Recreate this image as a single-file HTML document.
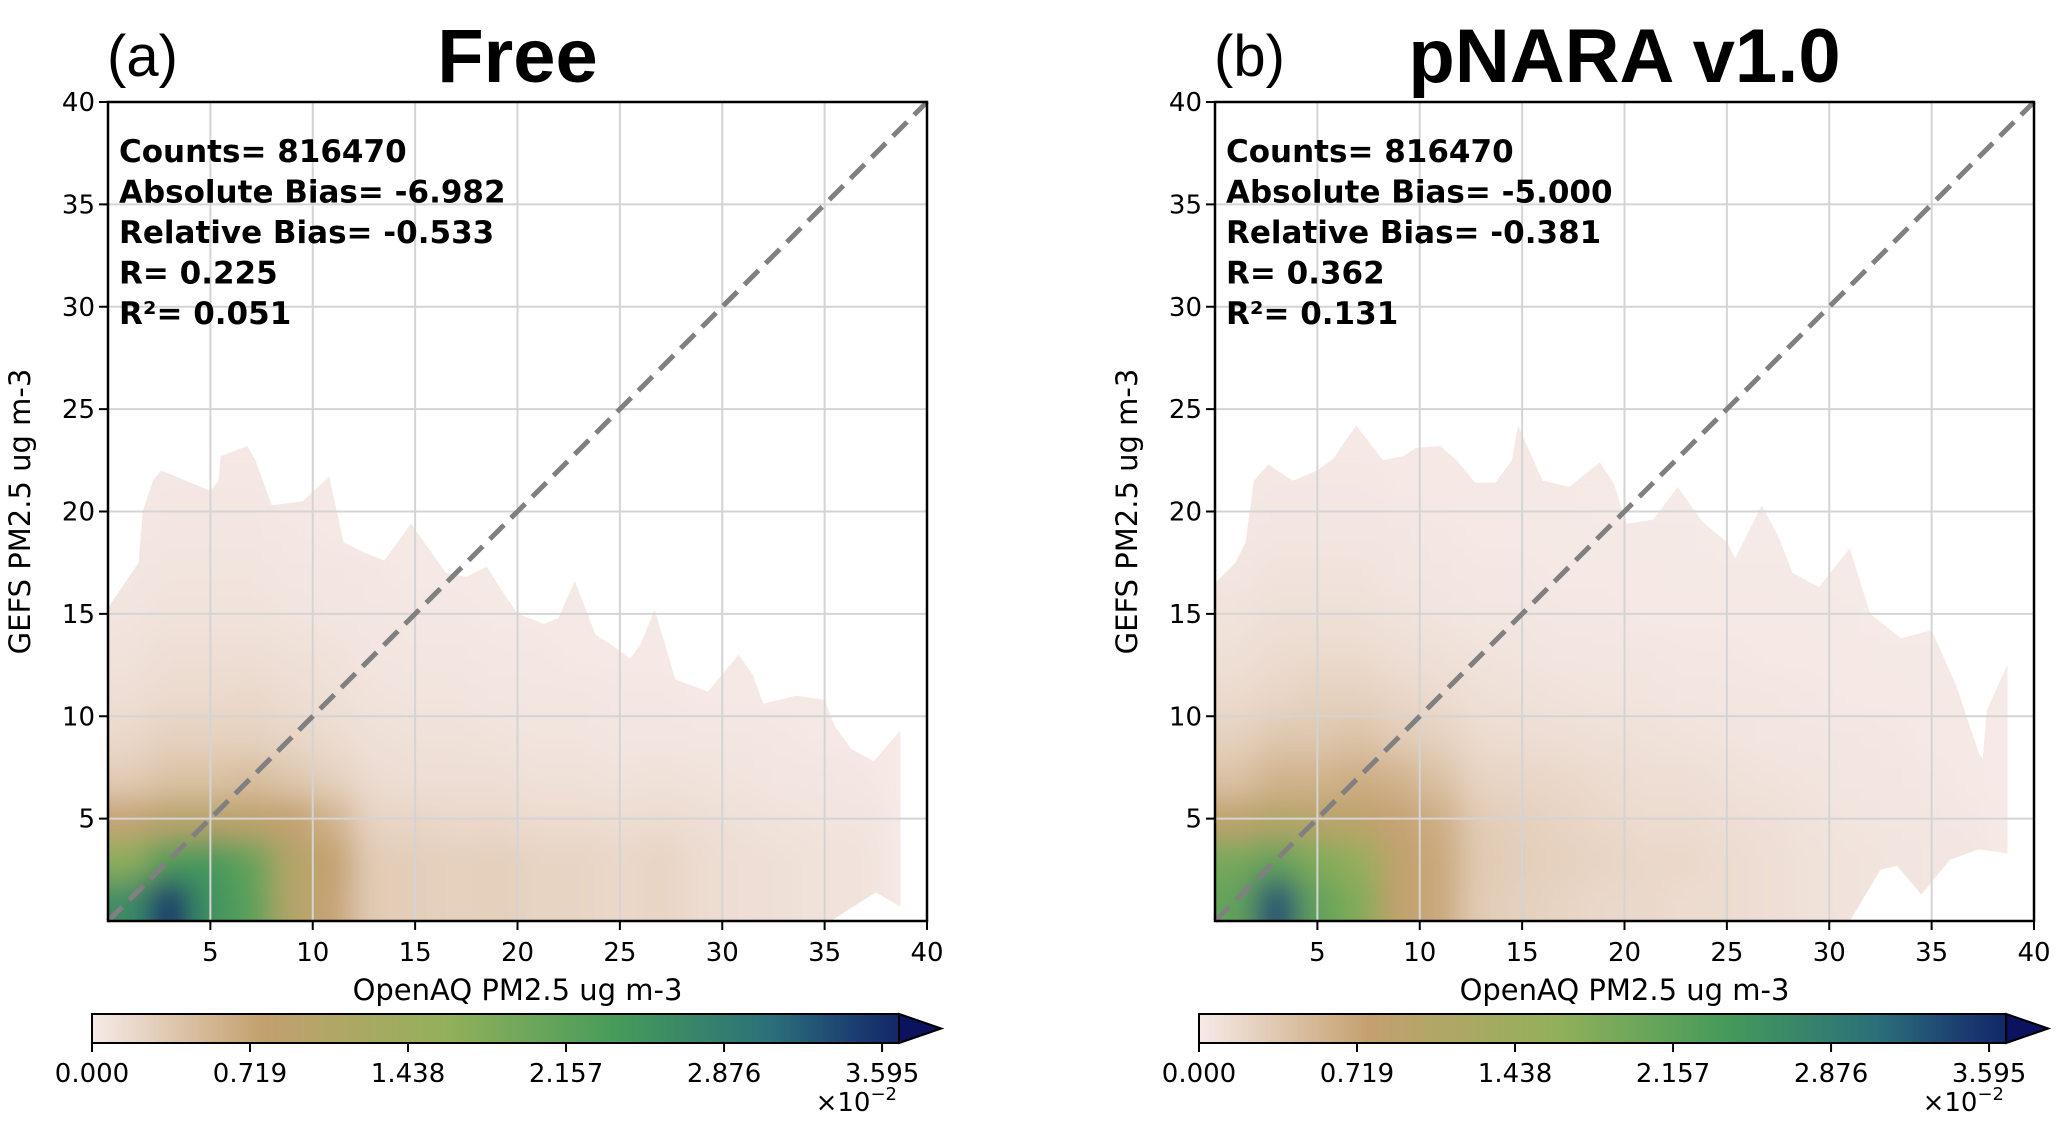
<!DOCTYPE html>
<html><head><meta charset="utf-8"><style>
html,body{margin:0;padding:0;background:#fff;}
svg{display:block;}
text{font-family:"DejaVu Sans","Liberation Sans",sans-serif;}
</style></head><body>
<svg id="fig" width="2067" height="1133" viewBox="0 0 2067 1133" xmlns="http://www.w3.org/2000/svg">
<defs>
<filter id="blurF" x="-10%" y="-10%" width="120%" height="120%"><feGaussianBlur stdDeviation="15"/></filter>
<linearGradient id="cbGrad" x1="0" x2="1" y1="0" y2="0">
<stop offset="0" stop-color="#f6eae8"/><stop offset="0.2" stop-color="#c4a06e"/><stop offset="0.42" stop-color="#92b05a"/><stop offset="0.62" stop-color="#459b5a"/><stop offset="0.8" stop-color="#2b6f7a"/><stop offset="0.9" stop-color="#1b3d70"/><stop offset="1" stop-color="#0b1260"/>
</linearGradient>
</defs>
</svg>
<script>
// ---- data ----
const xTicks = [5,10,15,20,25,30,35,40];
const yTicks = [5,10,15,20,25,30,35,40];
const cbTicks = [0.000,0.719,1.438,2.157,2.876,3.595];
const cbMax = 3.672;
const gridXCenters = [1,3,5,7,9,11,13,15,17,19,21,23,25,27,29,31,33,35,37,39];
const gridYCenters = [1,3,5,7,9,11,13,15,17,19,21];
const densA = [
[2.5,3.4,2.4,2.1,1.0,0.7,0.3,0.28,0.25,0.27,0.22,0.22,0.18,0.22,0.15,0.12,0.1,0.08,0.07,0],
[1.6,2.2,2.3,2.0,1.0,0.75,0.3,0.28,0.25,0.27,0.22,0.22,0.18,0.22,0.15,0.12,0.1,0.08,0.07,0],
[0.7,0.9,0.9,0.8,0.75,0.55,0.22,0.2,0.18,0.18,0.15,0.15,0.13,0.15,0.12,0.09,0.07,0.06,0.06,0],
[0.3,0.4,0.4,0.45,0.35,0.25,0.14,0.12,0.12,0.12,0.09,0.09,0.07,0.09,0.07,0.06,0.05,0.04,0.03,0],
[0.18,0.25,0.25,0.25,0.2,0.15,0.1,0.09,0.09,0.07,0.06,0.06,0.05,0.05,0.04,0.04,0.03,0.02,0.02,0],
[0.12,0.16,0.16,0.18,0.14,0.1,0.07,0.06,0.06,0.05,0.04,0.04,0.03,0.03,0.02,0.02,0.02,0.01,0,0],
[0.08,0.12,0.12,0.12,0.1,0.08,0.05,0.04,0.04,0.03,0.03,0.02,0.02,0.02,0.01,0.01,0.01,0,0,0],
[0.06,0.08,0.08,0.08,0.06,0.05,0.04,0.03,0.03,0.02,0.02,0.02,0.01,0.01,0.01,0.01,0,0,0,0],
[0.04,0.06,0.06,0.06,0.04,0.04,0.03,0.02,0.02,0.01,0.01,0.01,0.01,0.01,0,0,0,0,0,0],
[0.03,0.04,0.04,0.04,0.03,0.02,0.02,0.01,0.01,0.01,0.01,0,0,0,0,0,0,0,0,0],
[0.02,0.03,0.03,0.03,0.02,0.02,0.01,0.01,0.01,0,0,0,0,0,0,0,0,0,0,0]];
const densB = [
[2.0,3.2,2.0,1.7,0.8,0.65,0.3,0.26,0.22,0.18,0.18,0.15,0.15,0.12,0.09,0.07,0.06,0.05,0.05,0],
[1.8,2.0,1.7,1.5,0.8,0.65,0.32,0.28,0.25,0.22,0.18,0.18,0.15,0.12,0.09,0.07,0.06,0.05,0.05,0],
[0.8,1.0,0.9,0.85,0.7,0.6,0.3,0.26,0.22,0.18,0.15,0.15,0.12,0.11,0.07,0.06,0.05,0.04,0.03,0],
[0.4,0.55,0.55,0.6,0.55,0.4,0.22,0.2,0.18,0.15,0.12,0.12,0.09,0.07,0.06,0.05,0.04,0.03,0.02,0],
[0.25,0.35,0.35,0.4,0.3,0.25,0.15,0.13,0.12,0.1,0.09,0.07,0.06,0.05,0.04,0.04,0.03,0.02,0.02,0],
[0.16,0.2,0.25,0.25,0.2,0.15,0.1,0.09,0.07,0.06,0.06,0.05,0.04,0.04,0.03,0.02,0.02,0.02,0.01,0],
[0.1,0.15,0.16,0.16,0.12,0.1,0.07,0.06,0.05,0.04,0.04,0.03,0.03,0.02,0.02,0.02,0.01,0.01,0,0],
[0.07,0.1,0.1,0.1,0.08,0.06,0.04,0.04,0.03,0.03,0.02,0.02,0.02,0.02,0.01,0.01,0,0,0,0],
[0.05,0.07,0.07,0.07,0.05,0.04,0.03,0.03,0.02,0.02,0.02,0.01,0.01,0.01,0.01,0,0,0,0,0],
[0.03,0.05,0.05,0.05,0.04,0.03,0.02,0.02,0.01,0.01,0.01,0.01,0,0,0,0,0,0,0,0],
[0.02,0.03,0.03,0.03,0.02,0.02,0.01,0.01,0.01,0,0,0,0,0,0,0,0,0,0,0]];
const envAx = [0,0,1.5,1.7,2.2,2.6,5,5.4,5.5,6.8,7.2,8,9.5,10.8,11.5,12.5,13.5,14.8,16.5,17.5,18.5,19,20,21.3,22,22.8,23.8,25,25.5,26,26.7,27.7,29.3,30.8,31.5,32,33.6,35,35.5,36.3,37.4,38.7,38.7,37.5,35.3];
const envAy = [0,15.3,17.5,20,21.5,22,21,21.5,22.7,23.2,22.5,20.3,20.5,21.7,18.5,18,17.6,19.4,17,16.8,17.3,16.5,15,14.5,14.8,16.6,14,13.2,12.8,13.5,15.2,11.8,11.2,13,12,10.6,11,10.8,9.5,8.4,7.8,9.3,0.7,1.4,0];
const envBx = [0,0,1,1.5,1.9,2.6,3.8,5,5.8,6.4,6.9,8.2,9.2,9.8,11,11.8,12.7,13.7,14.5,14.8,16,17.3,18.8,19.5,20.1,21.4,22.6,23.8,25,25.4,26.7,27.5,28.2,29.5,31,32,33.5,35,36.2,37.3,37.5,37.7,38.7,38.7,37.3,35.9,34.5,33.3,32.5,31];
const envBy = [0,16.5,17.5,18.5,21.5,22.3,21.5,22,22.6,23.5,24.2,22.5,22.7,23.1,23.2,22.5,21.4,21.4,22.5,24.2,21.5,21.2,22.4,21.3,19.4,19.6,21.2,19.5,18.5,17.7,20.3,18.8,17,16.3,18.2,15,13.8,14.2,11.5,8.2,7.9,10.3,12.5,3.3,3.5,3.0,1.3,2.7,2.5,0];
const statsA = ["Counts= 816470","Absolute Bias= -6.982","Relative Bias= -0.533","R= 0.225","R²= 0.051"];
const statsB = ["Counts= 816470","Absolute Bias= -5.000","Relative Bias= -0.381","R= 0.362","R²= 0.131"];

const NS="http://www.w3.org/2000/svg";
const svg=document.getElementById('fig');
function mk(tag,attrs,parent){const e=document.createElementNS(NS,tag);for(const k in attrs)e.setAttribute(k,attrs[k]);(parent||svg).appendChild(e);return e;}
const stops=[[0,[246,234,232]],[0.2,[196,160,110]],[0.42,[146,176,90]],[0.62,[69,155,90]],[0.8,[43,111,122]],[0.9,[27,61,112]],[1,[11,18,96]]];
function cmap(v){let t=Math.max(0,Math.min(1,v/cbMax));for(let i=1;i<stops.length;i++){if(t<=stops[i][0]){const a=stops[i-1],b=stops[i];const f=(t-a[0])/(b[0]-a[0]);const c=a[1].map((x,j)=>Math.round(x+(b[1][j]-x)*f));return 'rgb('+c.join(',')+')';}}return 'rgb(11,18,96)';}

function panel(px,py,letter,title,dens,ex,ey,stats,id){
  const S=819, X=v=>px+v/40*S, Y=v=>py+S-v/40*S;
  const g=mk('g',{});
  
  
  const cp=mk('clipPath',{id:'clip'+id},g);
  const pts=ex.map((x,i)=>X(x).toFixed(1)+','+Y(ey[i]).toFixed(1)).join(' ');
  mk('polygon',{points:pts},cp);
  const dg=mk('g',{'clip-path':'url(#clip'+id+')'},g);
  
  
  mk('rect',{x:px,y:py,width:S,height:S,fill:cmap(0.02)},dg);
  const bg=mk('g',{filter:'url(#blurF)'},dg);
  const cw=2/40*S;
  dens.forEach((row,j)=>row.forEach((v,i)=>{
    let x0=X(gridXCenters[i]-1), y0=Y(gridYCenters[j]+1), w=cw, h=cw;
    if(i===0){x0-=40;w+=40;} if(j===0){h+=40;}
    const r=mk('rect',{x:x0,y:y0,width:w+0.5,height:h+0.5,fill:cmap(v)},bg);
    
    
  }));
  xTicks.forEach(t=>{if(t<40){const l=mk('line',{x1:X(t),x2:X(t),y1:py,y2:py+S,stroke:'#d4d4d4','stroke-width':2},g);}});
  yTicks.forEach(t=>{if(t<40){const l=mk('line',{x1:px,x2:px+S,y1:Y(t),y2:Y(t),stroke:'#d4d4d4','stroke-width':2},g);}});
  const d=mk('line',{x1:X(0),y1:Y(0),x2:X(40),y2:Y(40),stroke:'#808080','stroke-width':5,'stroke-dasharray':'20,10'},g);
  
  
  const fr=mk('rect',{x:px,y:py,width:S,height:S,fill:'none',stroke:'#000','stroke-width':2.5},g);
  
  
  xTicks.forEach(t=>{mk('line',{x1:X(t),x2:X(t),y1:py+S,y2:py+S+9,stroke:'#000','stroke-width':2},g);
    const tx=mk('text',{x:X(t),y:py+S+40,'font-size':26,'text-anchor':'middle'},g);tx.textContent=t;
    });
  yTicks.forEach(t=>{mk('line',{x1:px-9,x2:px,y1:Y(t),y2:Y(t),stroke:'#000','stroke-width':2},g);
    const tx=mk('text',{x:px-13,y:Y(t)+9,'font-size':26,'text-anchor':'end'},g);tx.textContent=t;
    });
  const xl=mk('text',{x:px+S/2,y:py+S+79,'font-size':29,'text-anchor':'middle'},g);xl.textContent='OpenAQ PM2.5 ug m-3';
  
  const yx=px-78, yy=py+S/2;
  const yl=mk('text',{x:yx,y:yy,'font-size':29,'text-anchor':'middle',transform:'rotate(-90 '+yx+' '+yy+')'},g);yl.textContent='GEFS PM2.5 ug m-3';
  
  stats.forEach((s,i)=>{const t=mk('text',{x:px+11,y:py+60+i*40.5,'font-size':31,'font-weight':'bold'},g);t.textContent=s;
    });
  const lt=mk('text',{x:px-1,y:py-26,'font-size':58,style:'font-family:"Liberation Sans",sans-serif'},g);lt.textContent=letter;
  
  const tt=mk('text',{x:px+S/2,y:py-20,'font-size':76,'font-weight':'bold','text-anchor':'middle',style:'font-family:"Liberation Sans",sans-serif'},g);tt.textContent=title;
  
  const cx=px-16, cr=px+791, ct=1014, cb=1043, tip=px+833;
  const cbg=mk('g',{},g);
  
  
  mk('polygon',{points:`${cx},${ct} ${cr},${ct} ${tip},${(ct+cb)/2} ${cr},${cb} ${cx},${cb}`,fill:'url(#cbGrad)',stroke:'#000','stroke-width':2},cbg);
  mk('polygon',{points:`${cr},${ct} ${tip},${(ct+cb)/2} ${cr},${cb}`,fill:'#0b1260',stroke:'#000','stroke-width':2},cbg);
  const CX=v=>cx+v/cbMax*(cr-cx);
  cbTicks.forEach(v=>{mk('line',{x1:CX(v),x2:CX(v),y1:cb,y2:cb+9,stroke:'#000','stroke-width':2},cbg);
    const t=mk('text',{x:CX(v),y:1082,'font-size':26,'text-anchor':'middle'},cbg);t.textContent=v.toFixed(3);
    });
  const ex2=mk('text',{x:px+789,y:1111,'font-size':26,'text-anchor':'end'},cbg);
  
  ex2.innerHTML='×10<tspan dy="-11" font-size="18">−2</tspan>';
}
panel(108,102,'(a)','Free',densA,envAx,envAy,statsA,'a');
panel(1215,102,'(b)','pNARA v1.0',densB,envBx,envBy,statsB,'b');
</script>
</body></html>
